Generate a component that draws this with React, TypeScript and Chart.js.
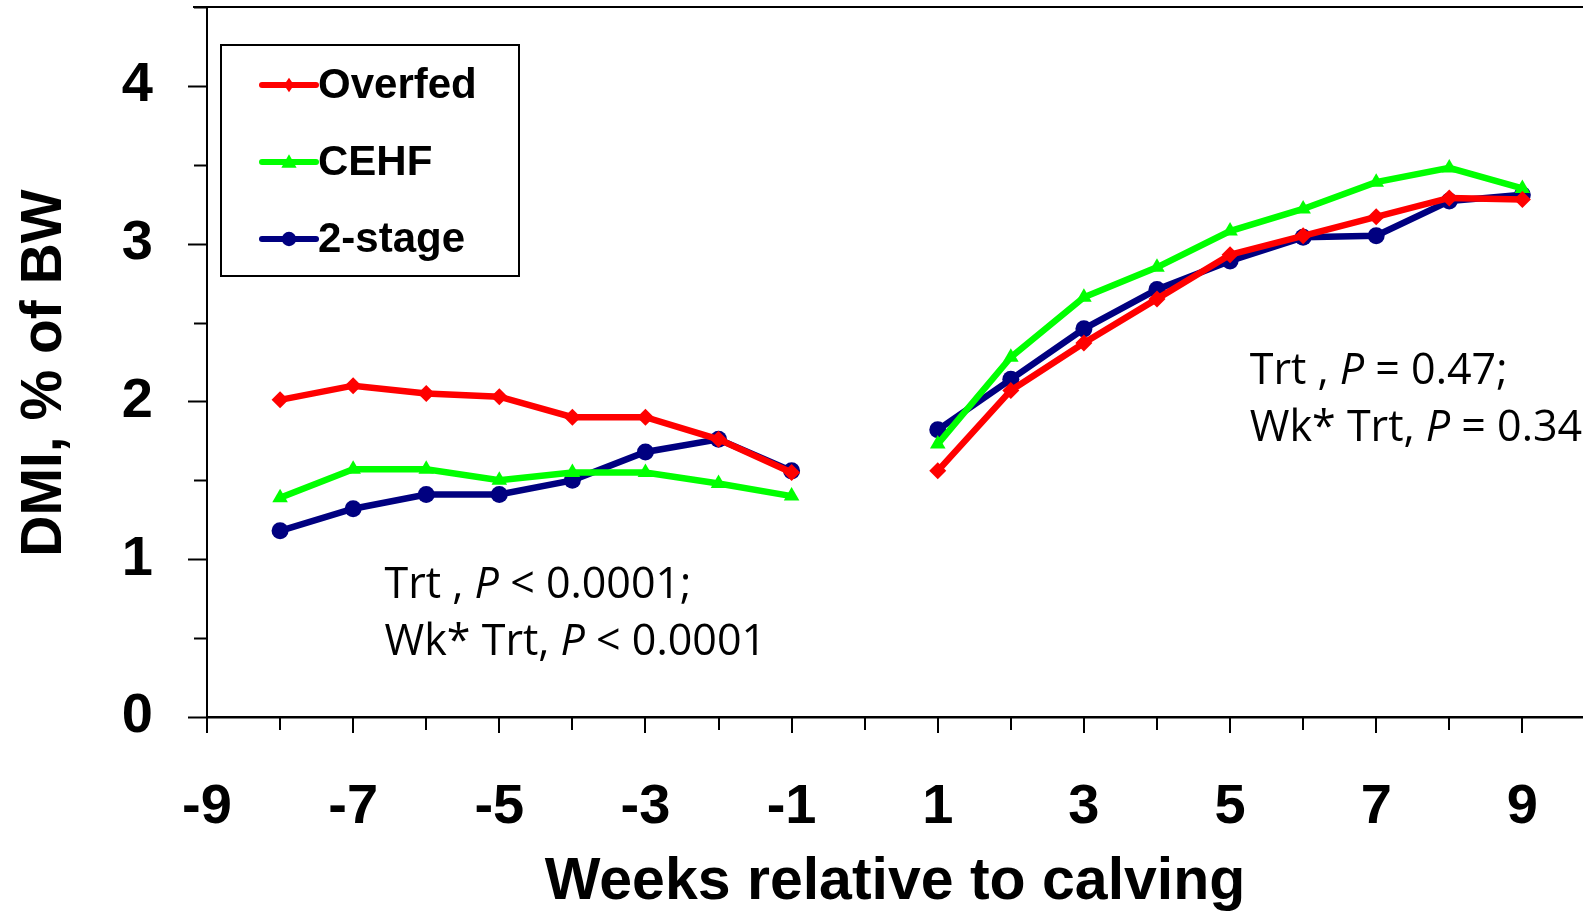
import React, { useEffect, useRef } from 'react';
import { Chart, registerables } from 'chart.js';

Chart.register(...registerables);

// ---- data ----
const weeks = [-8, -7, -6, -5, -4, -3, -2, -1, 0, 1, 2, 3, 4, 5, 6, 7, 8, 9];
const overfed = [2.01, 2.10, 2.05, 2.03, 1.90, 1.90, 1.76, 1.55, null, 1.56, 2.07, 2.37, 2.65, 2.93, 3.05, 3.17, 3.29, 3.28];
const cehf = [1.39, 1.57, 1.57, 1.50, 1.55, 1.55, 1.48, 1.40, null, 1.73, 2.28, 2.66, 2.85, 3.08, 3.22, 3.39, 3.48, 3.35];
const twoStage = [1.18, 1.32, 1.41, 1.41, 1.50, 1.68, 1.76, 1.56, null, 1.82, 2.14, 2.46, 2.71, 2.89, 3.04, 3.05, 3.27, 3.31];
const seriesLabels = ['Overfed', 'CEHF', '2-stage'];
const xTickLabels = ['-9', '-7', '-5', '-3', '-1', '1', '3', '5', '7', '9'];
const yTickLabels = ['0', '1', '2', '3', '4'];
const yTitle = 'DMI, % of BW';
const xTitle = 'Weeks relative to calving';
const notePre = ['Trt , P < 0.0001;', 'Wk* Trt, P < 0.0001'];
const notePost = ['Trt , P = 0.47;', 'Wk* Trt, P = 0.34'];

// ---- styling / layout ----
const W = 1583;
const H = 912;
const AXIS_FONT = '"Liberation Sans", Arial, sans-serif';
const NOTE_FONT = '"Open Sans", sans-serif';
const NOTE_SIZE = 43;
const notePos = [
  { x: -6.57, y: 0.83, lines: notePre },
  { x: 5.27, y: 2.19, lines: notePost },
];
const styles = [
  { color: '#FF0000', point: 'rectRot', radius: 8.5 },
  { color: '#00FF00', point: 'triangle', radius: 9 },
  { color: '#000080', point: 'circle', radius: 8.5 },
];

function pts(vals: (number | null)[]) {
  return weeks.map((w, i) => ({ x: w, y: vals[i] }));
}

function drawRich(ctx: CanvasRenderingContext2D, text: string, x: number, y: number) {
  const parts = text.split(/(P)/);
  let cx = x;
  for (const p of parts) {
    if (!p) continue;
    ctx.font = `${p === 'P' ? 'italic ' : ''}${NOTE_SIZE}px ${NOTE_FONT}`;
    ctx.fillText(p, cx, y);
    cx += ctx.measureText(p).width;
  }
}

const decor = {
  id: 'decor',
  afterDraw(chart: any) {
    const ctx: CanvasRenderingContext2D = chart.ctx;
    const xs = chart.scales.x;
    const ys = chart.scales.y;
    const area = chart.chartArea;
    ctx.save();
    ctx.strokeStyle = '#000';
    ctx.fillStyle = '#000';
    // top border line
    ctx.lineWidth = 2;
    ctx.beginPath();
    ctx.moveTo(area.left - 14, area.top);
    ctx.lineTo(area.right, area.top);
    ctx.stroke();
    // y tick marks
    for (let v = 0; v <= 4.5 + 1e-9; v += 0.5) {
      const py = Math.round(ys.getPixelForValue(v)) + 0.5;
      const len = Number.isInteger(v) ? 19 : 13;
      ctx.beginPath();
      ctx.moveTo(area.left - len, py);
      ctx.lineTo(area.left, py);
      ctx.stroke();
    }
    // x tick marks
    for (let v = -9; v <= 10; v += 1) {
      const px = Math.round(xs.getPixelForValue(v));
      if (px > area.right) continue;
      const len = Math.abs(v) % 2 === 1 ? 16 : 13;
      ctx.beginPath();
      ctx.moveTo(px, area.bottom);
      ctx.lineTo(px, area.bottom + len);
      ctx.stroke();
    }
    // y title
    ctx.save();
    ctx.translate(45, 373);
    ctx.rotate(-Math.PI / 2);
    ctx.textAlign = 'center';
    ctx.textBaseline = 'middle';
    ctx.font = `bold 57px ${AXIS_FONT}`;
    ctx.fillText(yTitle, 0, 0);
    ctx.restore();
    // annotations
    ctx.textBaseline = 'middle';
    ctx.textAlign = 'left';
    for (const n of notePos) {
      const x0 = xs.getPixelForValue(n.x);
      const y0 = ys.getPixelForValue(n.y);
      n.lines.forEach((ln, i) => drawRich(ctx, ln, x0, y0 + i * 57));
    }
    // legend
    const bx = 221, by = 45, bw = 298, bh = 231;
    ctx.lineWidth = 2;
    ctx.strokeRect(bx, by, bw, bh);
    chart.data.datasets.forEach((ds: any, i: number) => {
      const ry = 85 + i * 77;
      ctx.strokeStyle = ds.borderColor;
      ctx.lineWidth = 6;
      ctx.lineCap = 'round';
      ctx.beginPath();
      ctx.moveTo(262, ry);
      ctx.lineTo(316, ry);
      ctx.stroke();
      ctx.fillStyle = ds.borderColor;
      const st = styles[i];
      const r = st.radius * 0.85;
      ctx.beginPath();
      if (st.point === 'circle') {
        ctx.arc(289, ry, r, 0, Math.PI * 2);
      } else if (st.point === 'rectRot') {
        ctx.moveTo(289, ry - r); ctx.lineTo(289 + r * 0.7, ry); ctx.lineTo(289, ry + r); ctx.lineTo(289 - r * 0.7, ry);
        ctx.closePath();
      } else {
        ctx.moveTo(289, ry - r); ctx.lineTo(289 + r, ry + r * 0.75); ctx.lineTo(289 - r, ry + r * 0.75);
        ctx.closePath();
      }
      ctx.fill();
      ctx.fillStyle = '#000';
      ctx.font = `bold 42px ${AXIS_FONT}`;
      ctx.fillText(ds.label, 318, ry + 1);
    });
    ctx.restore();
  },
};

function zeroPad(s: any) {
  s.paddingTop = 0;
  s.paddingBottom = 0;
  s.paddingLeft = 0;
  s.paddingRight = 0;
}

export default function App() {
  const ref = useRef<HTMLCanvasElement>(null);
  useEffect(() => {
    if (!ref.current) return;
    const series = [overfed, cehf, twoStage];
    const chart = new Chart(ref.current, {
      type: 'line',
      data: {
        datasets: series.map((vals, i) => ({
          label: seriesLabels[i],
          data: pts(vals),
          borderColor: styles[i].color,
          backgroundColor: styles[i].color,
          borderWidth: 6.5,
          pointStyle: styles[i].point as any,
          pointRadius: styles[i].radius,
          pointBorderWidth: 0,
          spanGaps: false,
          tension: 0,
        })),
      },
      options: {
        responsive: false,
        animation: false,
        layout: { autoPadding: false, padding: { top: 7, right: 0, bottom: 0, left: 0 } },
        plugins: { legend: { display: false }, tooltip: { enabled: false } },
        scales: {
          x: {
            type: 'linear',
            min: -9,
            max: 9.83,
            afterFit: (s: any) => { s.height = H - 7 - 710; zeroPad(s); },
            grid: { display: false, drawTicks: false },
            border: { display: true, color: '#000', width: 2.5 },
            ticks: {
              stepSize: 1,
              includeBounds: false,
              autoSkip: false,
              maxRotation: 0,
              padding: 57,
              color: '#000',
              font: { family: AXIS_FONT, size: 56, weight: 'bold' },
              callback: (v: any) => (xTickLabels.includes(String(v)) ? String(v) : ''),
            },
            title: {
              display: true,
              text: xTitle,
              color: '#000',
              font: { family: AXIS_FONT, size: 59, weight: 'bold', lineHeight: 1.0 },
              padding: { top: 0, bottom: 0 },
            },
          },
          y: {
            min: 0,
            max: 4.5,
            afterFit: (s: any) => { s.width = 207; zeroPad(s); },
            grid: { display: false, drawTicks: false },
            border: { display: true, color: '#000', width: 2 },
            ticks: {
              stepSize: 0.5,
              autoSkip: false,
              padding: 54,
              color: '#000',
              font: { family: AXIS_FONT, size: 56, weight: 'bold' },
              callback: (v: any) => (yTickLabels.includes(String(v)) ? String(v) : ''),
            },
            title: { display: false },
          },
        },
      },
      plugins: [decor],
    });
    return () => chart.destroy();
  }, []);
  return (
    <div style={{ position: 'absolute', left: 0, top: 0, width: W, height: H, background: '#fff', overflow: 'hidden' }}>
      <canvas ref={ref} width={W} height={H} style={{ display: 'block' }} />
    </div>
  );
}
